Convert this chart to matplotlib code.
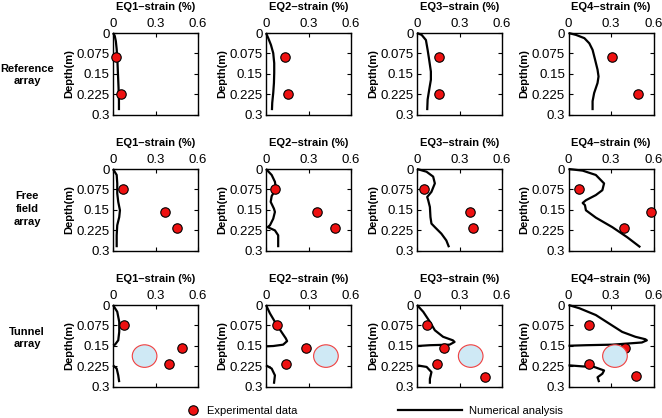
import matplotlib
matplotlib.use('Agg')
import matplotlib.pyplot as plt
from matplotlib.patches import Ellipse
from matplotlib.lines import Line2D

plt.rcParams['font.family'] = ['Liberation Sans', 'DejaVu Sans']

# ---------------- text ----------------
eq_titles = ['EQ1\u2013strain (%)', 'EQ2\u2013strain (%)', 'EQ3\u2013strain (%)', 'EQ4\u2013strain (%)']
row_labels = ['Reference\narray', 'Free\nfield\narray', 'Tunnel\narray']
y_label = 'Depth(m)'
x_ticks = [0, 0.3, 0.6]
x_tick_labels = ['0', '0.3', '0.6']
y_ticks = [0, 0.075, 0.15, 0.225, 0.3]
y_tick_labels = ['0', '0.075', '0.15', '0.225', '0.3']
legend_labels = ['Experimental data', 'Numerical analysis']

# ---------------- reference array ----------------
ref_depth_exp = [0.09, 0.225]
ref_eq1_exp = [0.023, 0.054]
ref_eq2_exp = [0.133, 0.156]
ref_eq3_exp = [0.156, 0.156]
ref_eq4_exp = [0.305, 0.49]

ref_eq1_num_x = [0, 0.012, 0.02, 0.026, 0.031, 0.035, 0.039, 0.042, 0.042]
ref_eq1_num_y = [0, 0.01, 0.03, 0.06, 0.1, 0.15, 0.2, 0.25, 0.284]
ref_eq2_num_x = [0, 0.016, 0.035, 0.051, 0.058, 0.058, 0.056, 0.051, 0.044, 0.042]
ref_eq2_num_y = [0, 0.019, 0.044, 0.074, 0.111, 0.147, 0.184, 0.221, 0.257, 0.284]
ref_eq3_num_x = [0, 0.033, 0.063, 0.075, 0.086, 0.098, 0.098, 0.086, 0.075, 0.072]
ref_eq3_num_y = [0, 0.007, 0.026, 0.062, 0.099, 0.142, 0.172, 0.209, 0.245, 0.284]
ref_eq4_num_x = [0, 0.053, 0.112, 0.147, 0.17, 0.188, 0.205, 0.212, 0.205, 0.181, 0.17, 0.17]
ref_eq4_num_y = [0, 0.007, 0.019, 0.038, 0.062, 0.099, 0.135, 0.16, 0.184, 0.221, 0.251, 0.284]

# ---------------- free field array ----------------
ff_depth_exp = [0.075, 0.158, 0.216]
ff_eq1_exp = [0.068, 0.368, 0.449]
ff_eq2_exp = [0.063, 0.363, 0.49]
ff_eq3_exp = [0.049, 0.374, 0.393]
ff_eq4_exp = [0.077, 0.581, 0.391]

ff_eq1_num_x = [0, 0.026, 0.03, 0.03, 0.037, 0.049, 0.044, 0.03, 0.026, 0.026]
ff_eq1_num_y = [0, 0.022, 0.053, 0.09, 0.121, 0.152, 0.177, 0.207, 0.244, 0.288]
ff_eq2_num_x = [0, 0.04, 0.063, 0.07, 0.04, 0.033, 0.056, 0.063, 0.051, 0.028, 0.012, 0.063, 0.086, 0.086]
ff_eq2_num_y = [0, 0.022, 0.047, 0.072, 0.1, 0.121, 0.146, 0.158, 0.183, 0.207, 0.214, 0.226, 0.244, 0.288]
ff_eq3_num_x = [0, 0.067, 0.114, 0.126, 0.102, 0.072, 0.079, 0.091, 0.095, 0.102, 0.126, 0.172, 0.207, 0.226]
ff_eq3_num_y = [0, 0.01, 0.028, 0.053, 0.084, 0.103, 0.115, 0.14, 0.177, 0.201, 0.214, 0.238, 0.263, 0.288]
ff_eq4_num_x = [0, 0.1, 0.193, 0.251, 0.239, 0.193, 0.123, 0.1, 0.116, 0.123, 0.193, 0.309, 0.414, 0.507]
ff_eq4_num_y = [0, 0.006, 0.022, 0.053, 0.078, 0.096, 0.115, 0.125, 0.133, 0.152, 0.179, 0.214, 0.251, 0.288]

# ---------------- tunnel array ----------------
tun_eq1_exp_x = [0.077, 0.486, 0.398]
tun_eq1_exp_y = [0.074, 0.157, 0.216]
tun_eq2_exp_x = [0.079, 0.279, 0.14]
tun_eq2_exp_y = [0.074, 0.157, 0.216]
tun_eq3_exp_x = [0.072, 0.193, 0.142, 0.481]
tun_eq3_exp_y = [0.074, 0.158, 0.216, 0.266]
tun_eq4_exp_x = [0.146, 0.398, 0.146, 0.477]
tun_eq4_exp_y = [0.074, 0.157, 0.216, 0.262]

tunnel_center_x = [0.223, 0.423, 0.379, 0.328]
tunnel_center_y = [0.188, 0.188, 0.188, 0.188]

tun_eq1_upper_x = [0, 0.03, 0.044, 0.044, 0.037, 0.014, 0]
tun_eq1_upper_y = [0, 0.025, 0.062, 0.099, 0.13, 0.146, 0.148]
tun_eq1_lower_x = [0, 0.026, 0.037, 0.044]
tun_eq1_lower_y = [0.222, 0.234, 0.259, 0.284]
tun_eq2_upper_x = [0, 0.028, 0.063, 0.109, 0.14, 0.149, 0.121, 0.051, 0]
tun_eq2_upper_y = [0, 0.031, 0.062, 0.099, 0.123, 0.133, 0.146, 0.151, 0.152]
tun_eq2_lower_x = [0, 0.04, 0.063, 0.056]
tun_eq2_lower_y = [0.222, 0.234, 0.259, 0.29]
tun_eq3_upper_x = [0, 0.044, 0.091, 0.126, 0.184, 0.253, 0.265, 0.23, 0.091, 0]
tun_eq3_upper_y = [0, 0.025, 0.062, 0.093, 0.117, 0.13, 0.136, 0.146, 0.148, 0.151]
tun_eq3_lower_x = [0, 0.068, 0.102, 0.091, 0.091]
tun_eq3_lower_y = [0.222, 0.228, 0.247, 0.272, 0.29]
tun_eq4_upper_x = [0, 0.077, 0.193, 0.286, 0.379, 0.472, 0.542, 0.553, 0.518, 0.309, 0.123, 0]
tun_eq4_upper_y = [0, 0.012, 0.037, 0.068, 0.099, 0.117, 0.126, 0.13, 0.138, 0.146, 0.148, 0.15]
tun_eq4_lower_x = [0, 0.1, 0.181, 0.251, 0.239, 0.205, 0.216]
tun_eq4_lower_y = [0.222, 0.226, 0.228, 0.241, 0.253, 0.266, 0.284]

# ---------------- panel table built from the lists ----------------
panels = [
    [  # reference
        dict(exp=(ref_eq1_exp, ref_depth_exp), num=[(ref_eq1_num_x, ref_eq1_num_y)]),
        dict(exp=(ref_eq2_exp, ref_depth_exp), num=[(ref_eq2_num_x, ref_eq2_num_y)]),
        dict(exp=(ref_eq3_exp, ref_depth_exp), num=[(ref_eq3_num_x, ref_eq3_num_y)]),
        dict(exp=(ref_eq4_exp, ref_depth_exp), num=[(ref_eq4_num_x, ref_eq4_num_y)]),
    ],
    [  # free field
        dict(exp=(ff_eq1_exp, ff_depth_exp), num=[(ff_eq1_num_x, ff_eq1_num_y)]),
        dict(exp=(ff_eq2_exp, ff_depth_exp), num=[(ff_eq2_num_x, ff_eq2_num_y)]),
        dict(exp=(ff_eq3_exp, ff_depth_exp), num=[(ff_eq3_num_x, ff_eq3_num_y)]),
        dict(exp=(ff_eq4_exp, ff_depth_exp), num=[(ff_eq4_num_x, ff_eq4_num_y)]),
    ],
    [  # tunnel
        dict(exp=(tun_eq1_exp_x, tun_eq1_exp_y),
             num=[(tun_eq1_upper_x, tun_eq1_upper_y), (tun_eq1_lower_x, tun_eq1_lower_y)], tunnel=0),
        dict(exp=(tun_eq2_exp_x, tun_eq2_exp_y),
             num=[(tun_eq2_upper_x, tun_eq2_upper_y), (tun_eq2_lower_x, tun_eq2_lower_y)], tunnel=1),
        dict(exp=(tun_eq3_exp_x, tun_eq3_exp_y),
             num=[(tun_eq3_upper_x, tun_eq3_upper_y), (tun_eq3_lower_x, tun_eq3_lower_y)], tunnel=2),
        dict(exp=(tun_eq4_exp_x, tun_eq4_exp_y),
             num=[(tun_eq4_upper_x, tun_eq4_upper_y), (tun_eq4_lower_x, tun_eq4_lower_y)], tunnel=3),
    ],
]

# ---------------- layout ----------------
W, H = 662, 418
fig = plt.figure(figsize=(W / 100, H / 100), dpi=100)

col_left = [113, 266, 417, 568.5]
row_top = [33, 169, 305]
ax_w, ax_h = 85, 81.5
row_label_y = [75, 209, 338]

marker_color = '#ee1111'
fs = 8

for r in range(3):
    for c in range(4):
        l = col_left[c] / W
        b = 1 - (row_top[r] + ax_h) / H
        ax = fig.add_axes([l, b, ax_w / W, ax_h / H])
        p = panels[r][c]
        for xs, ys in p['num']:
            ax.plot(xs, ys, color='black', lw=1.6, solid_joinstyle='round',
                    solid_capstyle='butt', clip_on=False, zorder=2)
        ax.plot(p['exp'][0], p['exp'][1], linestyle='none', marker='o', ms=6.8,
                mfc=marker_color, mec='black', mew=0.8, clip_on=False, zorder=3)
        if 'tunnel' in p:
            k = p['tunnel']
            ax.add_patch(Ellipse((tunnel_center_x[k], tunnel_center_y[k]), 0.174, 0.083,
                                 facecolor='#cfe9f5', edgecolor='#f04040', lw=0.8, zorder=4))
        ax.set_xlim(0, 0.6)
        ax.set_ylim(0.3, 0)
        ax.set_xticks(x_ticks)
        ax.set_xticklabels(x_tick_labels)
        ax.set_yticks(y_ticks)
        ax.set_yticklabels(y_tick_labels)
        ax.xaxis.tick_top()
        ax.tick_params(axis='both', which='both', direction='in', length=3, width=0.8,
                       top=True, bottom=True, left=True, right=True,
                       labeltop=True, labelbottom=False, labelsize=9.5, pad=2.5)
        for s in ax.spines.values():
            s.set_linewidth(1.0)
        ax.text(0.5, 1 + 26 / ax_h, eq_titles[c], transform=ax.transAxes,
                ha='center', va='center', fontsize=fs, fontweight='bold')
        ax.text(-44 / ax_w, 0.5, y_label, transform=ax.transAxes, rotation=90,
                ha='center', va='center', fontsize=fs, fontweight='bold')
    fig.text(27 / W, 1 - row_label_y[r] / H, row_labels[r], ha='center', va='center',
             fontsize=fs, fontweight='bold', linespacing=1.35)

# ---------------- legend ----------------
h_exp = Line2D([], [], linestyle='none', marker='o', ms=6.8, mfc=marker_color,
               mec='black', mew=0.8)
h_num = Line2D([], [], color='black', lw=1.6)
fs_px = fs * 100 / 72
fig.legend([h_exp], [legend_labels[0]], loc='center left',
           bbox_to_anchor=(187.5 / W, 1 - 411 / H), frameon=False, fontsize=fs,
           borderpad=0, borderaxespad=0, handlelength=1.0,
           handletextpad=(207 - 187.5 - fs_px) / fs_px)
fig.legend([h_num], [legend_labels[1]], loc='center left',
           bbox_to_anchor=(398 / W, 1 - 411 / H), frameon=False, fontsize=fs,
           borderpad=0, borderaxespad=0, handlelength=64 / fs_px,
           handletextpad=7 / fs_px)

fig.savefig('out.png', dpi=100)
